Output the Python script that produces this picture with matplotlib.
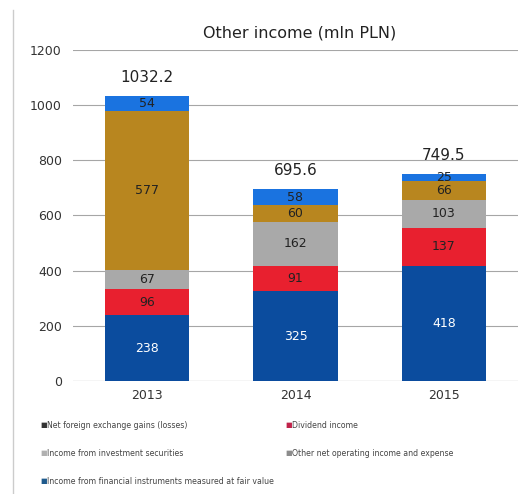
import numpy as np
import matplotlib.pyplot as plt
from matplotlib.lines import Line2D

years = ['2013', '2014', '2015']
totals = [1032.2, 695.6, 749.5]
series_names = [
    'Net foreign exchange gains (losses)',
    'Dividend income',
    'Income from investment securities',
    'Other net operating income and expense',
    'Income from financial instruments measured at fair value',
]
fx_gains = [238, 325, 418]
dividend = [96, 91, 137]
investment = [67, 162, 103]
other_net = [577, 60, 66]
fair_value = [54, 58, 25]

colors = ['#0b4c9e', '#e8202f', '#a9a9a9', '#b8861f', '#1a73e0']
label_colors = ['white', '#222222', '#222222', '#222222', '#222222']
legend_colors = ['#333333', '#c0234a', '#b0b0b0', '#8c8c8c', '#1f5a8c']

W, H = 528, 494
fig = plt.figure(figsize=(W / 100, H / 100), dpi=100)
ax = fig.add_axes([73 / W, 1 - 381 / H, 445 / W, 331 / H])

x = np.arange(len(years))
bottom = np.zeros(len(years))
for vals, col, lc in zip([fx_gains, dividend, investment, other_net, fair_value], colors, label_colors):
    vals = np.array(vals, dtype=float)
    ax.bar(x, vals, 0.57, bottom=bottom, color=col, zorder=2)
    for xi, b, v in zip(x, bottom, vals):
        ax.text(xi, b + v / 2, f'{v:.0f}', ha='center', va='center',
                fontsize=9, color=lc, zorder=3)
    bottom += vals

for xi, t in zip(x, totals):
    ax.text(xi, t + 68, f'{t:.1f}', ha='center', va='center', fontsize=11, color='#222222')

ax.set_xlim(-0.5, 2.5)
ax.set_ylim(0, 1200)
ax.set_yticks(range(0, 1201, 200))
ax.set_xticks(x)
ax.set_xticklabels(years)
ax.tick_params(length=0, labelsize=9, colors='#333333', pad=6)
ax.tick_params(axis='y', pad=8)
ax.yaxis.grid(True, color='#a6a6a6', lw=0.8, zorder=0)
for s in ax.spines.values():
    s.set_visible(False)
ax.axhline(0, color='#a6a6a6', lw=0.8, zorder=1)

fig.text(300 / W, 1 - 33 / H, 'Other income (mln PLN)', ha='center', va='center',
         fontsize=11.5, color='#222222')

# left border line
fig.add_artist(Line2D([13 / W, 13 / W], [1 - 493 / H, 1 - 10 / H], color='#cccccc', lw=1))

# legend
pos = [(40, 425), (285, 425), (40, 453), (285, 453), (40, 481)]
for (px, py), name, lc in zip(pos, series_names, legend_colors):
    fig.text(px / W, 1 - py / H, '\u25a0', fontsize=5, color=lc, va='center', ha='left')
    fig.text((px + 7) / W, 1 - py / H, name, fontsize=5.6, color='#444444', va='center', ha='left')

fig.savefig('out.png', dpi=100, facecolor='white')
